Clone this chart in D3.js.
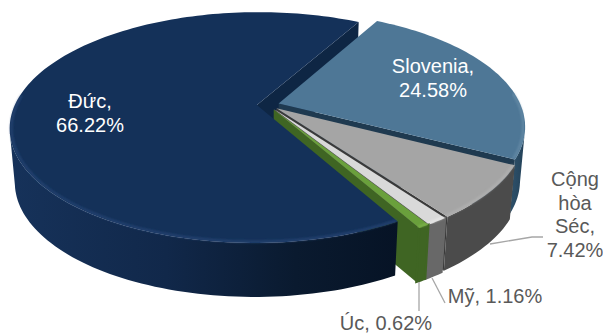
<!DOCTYPE html>
<html><head><meta charset="utf-8">
<script src="https://cdn.jsdelivr.net/npm/d3@7"></script>
<style>html,body{margin:0;padding:0;background:#fff}svg{display:block}text{font-family:"Liberation Sans",Arial,sans-serif;font-size:20px}</style>
</head><body><svg id="c" width="603" height="333"></svg>
<script>
const categories = ["Đức","Slovenia","Cộng hòa Séc","Mỹ","Úc"];
const shares = [66.22,24.58,7.42,1.16,0.62];
const topColors = ["#143159","#4e7796","#a5a5a5","#d9d9d9","#6aa03c"];
const wallColors = ["#0f2545","#2f526c","#4b4b4b","#686868","#3f6523"];
const radialColors = ["#0e2644","#1f3a50","#3a3a3a","#555555","#3f6523"];
const rimColors = ["#2c4d80","#6f94ae","#b8b8b8","#eeeeee","#86bb55"];
const labelLines = [["Đức,","66.22%"],["Slovenia,","24.58%"],["Cộng","hòa","Séc,","7.42%"],["Mỹ, 1.16%"],["Úc, 0.62%"]];
const labelCenters = [[90,108],[433,73],[575,186],[495,303],[386,330]];
const labelFill = ["#fff","#fff","#595959","#595959","#595959"];
const leaders = [null,null,[[490,244],[532,237],[543,237]],[[432,278],[445,303]],[[419,282],[419,311]]];

const cx=268, cy=105, R=242, S=111, k=0.195, depth=54, xShrink=0.98, explode=0.046;
const rad=Math.PI/180;
const pie=d3.pie().sort(null).value(d=>d).startAngle(150.6*rad).endAngle(510.6*rad);
const arcs=pie(shares);
const svg=d3.select("#c");
const defs=svg.append("defs");
const blur=defs.append("filter").attr("id","b").attr("x","-5%").attr("y","-5%").attr("width","110%").attr("height","110%");
blur.append("feGaussianBlur").attr("stdDeviation",0.9);

function grad(id,stops){
  const g=defs.append("linearGradient").attr("id",id).attr("gradientUnits","userSpaceOnUse")
    .attr("x1",10).attr("x2",530).attr("y1",0).attr("y2",0);
  stops.forEach(s=>g.append("stop").attr("offset",s[0]).attr("stop-color",s[1]));
}
grad("w0",[[0,"#16325a"],[0.3,"#11284a"],[0.55,"#0a1a2f"],[0.75,"#061325"],[1,"#061325"]]);
grad("w1",[[0,wallColors[1]],[0.9,"#3a6381"],[0.97,"#2b4d66"],[1,"#1f3a50"]]);

const line=d3.line().x(d=>d[0]).y(d=>d[1]);
function project(u,v,bottom){
  const w=1-k*v;
  let X=cx+R*u/w, Y=cy+S*v/w;
  if(bottom){X=cx+(X-cx)*xShrink;Y+=depth;}
  return [X,Y];
}
function slicePts(a){
  const mid=(a.startAngle+a.endAngle)/2, ox=Math.sin(mid)*explode, oy=-Math.cos(mid)*explode;
  const n=Math.max(4,Math.ceil((a.endAngle-a.startAngle)/(rad*1.5)));
  const ang=d3.range(n+1).map(i=>a.startAngle+(a.endAngle-a.startAngle)*i/n);
  const at=(t,r,b)=>project(ox+r*Math.sin(t),oy-r*Math.cos(t),b);
  return {ang,at,apexT:at(0,0,false),apexB:at(0,0,true)};
}
function drawRadial(g,a,i,t){
  const p=slicePts(a);
  g.append("path").attr("d",line([p.apexT,p.at(t,1,false),p.at(t,1,true),p.apexB])+"Z").attr("fill",radialColors[i]);
}
function drawOuter(g,a,i){
  const p=slicePts(a);
  const vis=p.ang.filter(t=>-Math.cos(t)>0.2);
  if(vis.length<2) return;
  const topPts=vis.map(t=>p.at(t,1,false)), botPts=vis.map(t=>p.at(t,1,true)).reverse();
  const fill=i===0?"url(#w0)":i===1?"url(#w1)":wallColors[i];
  g.append("path").attr("d",line(topPts.concat(botPts))+"Z").attr("fill",fill)
   .attr("stroke",i>=3?fill:"none").attr("stroke-width",i>=3?2.2:0);
}
function drawTop(g,a,i){
  const p=slicePts(a);
  const rim=p.ang.map(t=>p.at(t,1,false));
  g.append("path").attr("d",line([p.apexT].concat(rim))+"Z").attr("fill",topColors[i]);
  const front=p.ang.filter(t=>-Math.cos(t)>-0.1).map(t=>p.at(t,0.993,false));
  if(front.length>1) g.append("path").attr("d",line(front)).attr("fill","none")
    .attr("stroke",rimColors[i]).attr("stroke-width",2).attr("stroke-opacity",0.7).attr("filter","url(#b)");
}
const g=svg.append("g");
// Painter's order: Đức's inner wall, then the small slices clockwise, then Đức in front
drawRadial(g,arcs[0],0,arcs[0].endAngle);
[1,2,3,4].forEach(i=>{
  drawRadial(g,arcs[i],i,arcs[i].endAngle);
  drawOuter(g,arcs[i],i);
  drawTop(g,arcs[i],i);
});
drawOuter(g,arcs[0],0);
drawTop(g,arcs[0],0);

leaders.forEach(l=>{ if(l) svg.append("path").attr("d",line(l)).attr("fill","none").attr("stroke","#a6a6a6").attr("stroke-width",1.3);});
labelLines.forEach((ls,i)=>{
  const t=svg.append("text").attr("text-anchor","middle").attr("fill",labelFill[i]);
  ls.forEach((s,j)=>t.append("tspan").attr("x",labelCenters[i][0]).attr("y",labelCenters[i][1]+j*23.5).text(s));
});
</script></body></html>
